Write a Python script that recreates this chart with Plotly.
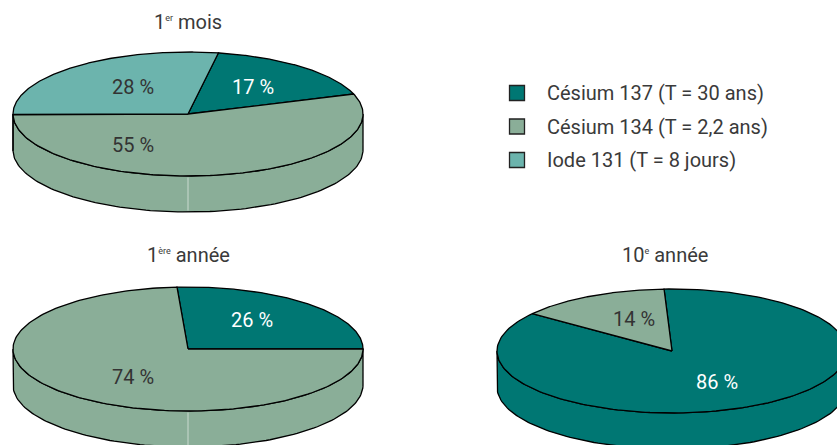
import numpy as np
import plotly.graph_objects as go

# ---- data ----
categories = ["Césium 137 (T = 30 ans)", "Césium 134 (T = 2,2 ans)", "Iode 131 (T = 8 jours)"]
title_main = ["1", "1", "10"]
title_sup = ["er", "ère", "e"]
title_rest = [" mois", " année", " année"]
values_1er_mois = [17, 55, 28]
values_1ere_annee = [26, 74, 0]
values_10e_annee = [86, 14, 0]
pie_values = [values_1er_mois, values_1ere_annee, values_10e_annee]

# ---- style / layout ----
colors = ["#007773", "#8aae98", "#6cb4ad"]
label_colors = ["white", "#333333", "#333333"]
W, H = 837, 445
RX, RY, DEPTH = 175, 62, 36
pie_layout = [
    dict(cx=188, cy=114, start=10.0, seam=True, title_xy=(188, 22),
         label_xy=[(253, 87), (133, 145), (133, 87)]),
    dict(cx=188, cy=349, start=-3.6, seam=True, title_xy=(188, 255),
         label_xy=[(252, 320), (133, 377), None]),
    dict(cx=672, cy=351, start=-2.6, seam=False, title_xy=(665, 255),
         label_xy=[(717, 382), (634, 319), None]),
]
legend_x, legend_text_x, legend_y0, legend_dy = 517, 545, 93, 33.5
FONT = "Roboto, 'DejaVu Sans', sans-serif"
TXT = "#3a3a3a"
FS = 20

fig = go.Figure()


def ell(cx, cy, ang_deg, dy=0.0):
    a = np.radians(ang_deg)
    return cx + RX * np.sin(a), cy - RY * np.cos(a) + dy


annotations = []
for i, (vals, lay) in enumerate(zip(pie_values, pie_layout)):
    cx, cy = lay["cx"], lay["cy"]
    total = float(sum(vals))
    spans = [v / total * 360.0 for v in vals]
    starts = lay["start"] + np.concatenate([[0], np.cumsum(spans)[:-1]])

    # side (front half: 90..270 deg clockwise from top)
    for k, (a0, sp) in enumerate(zip(starts, spans)):
        if sp <= 0:
            continue
        a1 = a0 + sp
        for off in (-360, 0, 360):
            s = max(a0, 90 + off)
            e = min(a1, 270 + off)
            if e - s <= 0.01:
                continue
            t = np.linspace(s, e, 120)
            xt, yt = ell(cx, cy, t)
            xb, yb = ell(cx, cy, t[::-1], DEPTH)
            xs = np.concatenate([xt, xb, xt[:1]])
            ys = np.concatenate([yt, yb, yt[:1]])
            fig.add_trace(go.Scatter(x=xs, y=ys, mode="lines", fill="toself",
                                     fillcolor=colors[k], line=dict(color="black", width=1.3),
                                     hoverinfo="skip", showlegend=False))
    if lay["seam"]:
        xs0, ys0 = ell(cx, cy, 180.0)
        fig.add_trace(go.Scatter(x=[xs0, xs0], y=[ys0 + 1.5, ys0 + DEPTH - 1.5], mode="lines",
                                 line=dict(color="rgba(255,255,255,0.55)", width=1),
                                 hoverinfo="skip", showlegend=False))

    # top slices
    for k, (a0, sp) in enumerate(zip(starts, spans)):
        if sp <= 0:
            continue
        t = np.linspace(a0, a0 + sp, 200)
        xa, ya = ell(cx, cy, t)
        xs = np.concatenate([[cx], xa, [cx]])
        ys = np.concatenate([[cy], ya, [cy]])
        fig.add_trace(go.Scatter(x=xs, y=ys, mode="lines", fill="toself",
                                 fillcolor=colors[k], line=dict(color="black", width=1.3),
                                 hoverinfo="skip", showlegend=False))

    # labels
    for k, v in enumerate(vals):
        if v <= 0 or lay["label_xy"][k] is None:
            continue
        lx, ly = lay["label_xy"][k]
        annotations.append(dict(x=lx, y=ly, xref="x", yref="y", text=f"{v} %", showarrow=False,
                                font=dict(family=FONT, size=FS, color=label_colors[k])))
    tx, ty = lay["title_xy"]
    title = (f"{title_main[i]}<sup><span style='font-size:9px'>{title_sup[i]}</span></sup>"
             f"{title_rest[i]}")
    annotations.append(dict(x=tx, y=ty, xref="x", yref="y", text=title, showarrow=False,
                            font=dict(family=FONT, size=FS, color=TXT)))

# legend
for k, name in enumerate(categories):
    y = legend_y0 + k * legend_dy
    fig.add_trace(go.Scatter(x=[legend_x], y=[y], mode="markers",
                             marker=dict(symbol="square", size=15, color=colors[k],
                                         line=dict(color="#222222", width=1.3)),
                             hoverinfo="skip", showlegend=False))
    annotations.append(dict(x=legend_text_x, y=y, xref="x", yref="y", text=name, showarrow=False,
                            xanchor="left", font=dict(family=FONT, size=FS, color=TXT)))

fig.update_layout(
    width=W, height=H, margin=dict(l=0, r=0, t=0, b=0),
    paper_bgcolor="white", plot_bgcolor="white",
    xaxis=dict(range=[0, W], visible=False, fixedrange=True),
    yaxis=dict(range=[H, 0], visible=False, fixedrange=True),
    annotations=annotations,
)

fig.write_html("out.html", config={"displayModeBar": False},
               post_script="document.body.style.margin='0';document.body.style.overflow='hidden';")
